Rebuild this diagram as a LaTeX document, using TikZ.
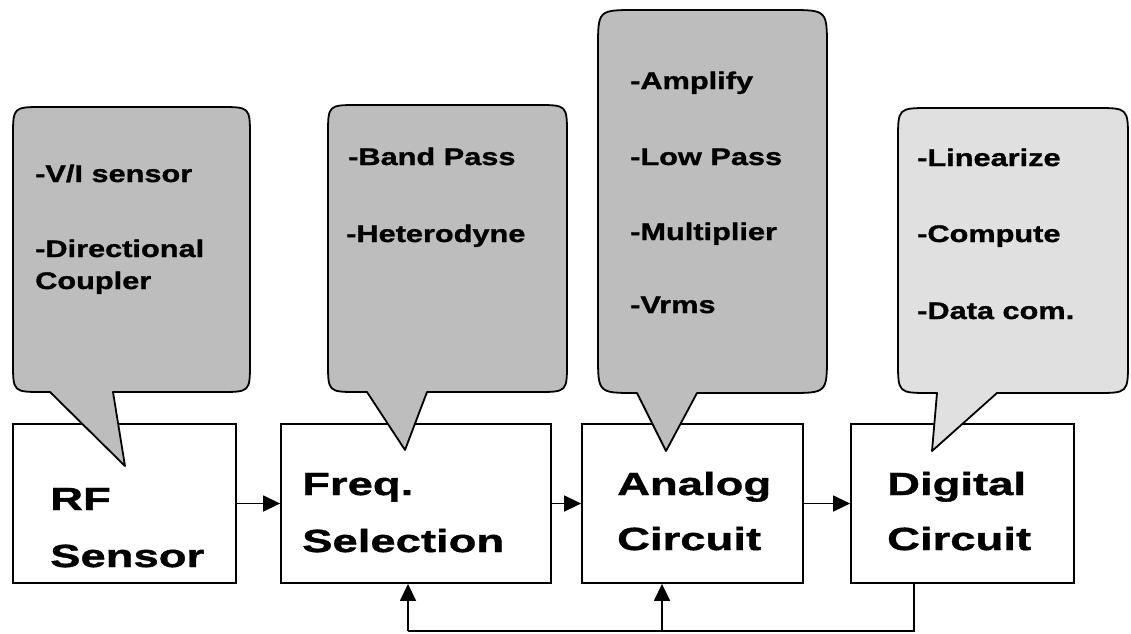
\documentclass[tikz,border=0pt]{standalone}
\usepackage{fontspec}
\newfontfamily\boxfont[FakeStretch=1.42,FakeBold=1.2]{Liberation Sans}
\newfontfamily\calfont[FakeStretch=1.28,FakeBold=1.2]{Liberation Sans}
\usetikzlibrary{arrows.meta}
\definecolor{calgray}{gray}{0.74}
\definecolor{callight}{gray}{0.88}
\begin{document}
\begin{tikzpicture}[x=1pt,y=-1pt,
  blk/.style={draw, line width=1.8pt, fill=white, minimum height=159pt, inner sep=0pt},
  conn/.style={line width=1.5pt, -{Triangle[length=17pt,width=16pt]}},
  feed/.style={line width=1.5pt},
  callout/.style={draw, line width=1.8pt, line join=round, fill=calgray},
  calloutlight/.style={callout, fill=callight},
  btext/.style={anchor=base west, inner sep=0pt, font=\boxfont\bfseries\fontsize{32}{38}\selectfont},
  ctext/.style={anchor=base west, inner sep=0pt, font=\calfont\bfseries\fontsize{24}{29}\selectfont}]
\useasboundingbox[fill=white] (0,0) rectangle (1131,633);

% blocks
\node[blk, minimum width=223pt] (rf) at (124.5,503.5) {};
\node[blk, minimum width=270pt] (fs) at (416,503.5) {};
\node[blk, minimum width=221pt] (ac) at (692.5,503.5) {};
\node[blk, minimum width=223pt] (dc) at (962.5,503.5) {};

% block texts
\node[btext] (rfa) at (50,510) {RF};
\node[btext] (rfb) at (50,567) {Sensor};
\node[btext] (fsa) at (302,495) {Freq.};
\node[btext] (fsb) at (302,552) {Selection};
\node[btext] (aca) at (617,495) {Analog};
\node[btext] (acb) at (617,550) {Circuit};
\node[btext] (dca) at (887,495) {Digital};
\node[btext] (dcb) at (887,550) {Circuit};

% forward connectors
\draw[conn] (rf.east) -- (fs.west);
\draw[conn] (fs.east) -- (ac.west);
\draw[conn] (ac.east) -- (dc.west);

% feedback
\coordinate (d1) at (914,631);
\coordinate (f1) at (408,631);
\coordinate (a1) at (662,631);
\draw[feed] (dc.south -| d1) -- (d1) -- (f1);
\draw[conn] (f1) -- (f1 |- fs.south);
\draw[conn] (a1) -- (a1 |- ac.south);

% callouts
\path[callout] (113,392) -- (220,392) .. controls (250,392) .. (250,362) -- (250,137)
  .. controls (250,107) .. (220,107) -- (43,107) .. controls (13,107) .. (13,137)
  -- (13,362) .. controls (13,392) .. (43,392) -- (50,392) -- (125,466) -- cycle;
\path[callout] (427,392) -- (537,392) .. controls (567,392) .. (567,362) -- (567,135)
  .. controls (567,105) .. (537,105) -- (358,105) .. controls (328,105) .. (328,135)
  -- (328,362) .. controls (328,392) .. (358,392) -- (367,392) -- (405,450) -- cycle;
\path[callout] (697,393) -- (789,393) .. controls (827,393) .. (827,355) -- (827,48)
  .. controls (827,10) .. (789,10) -- (636,10) .. controls (598,10) .. (598,48)
  -- (598,355) .. controls (598,393) .. (636,393) -- (637,393) -- (666,451) -- cycle;
\path[calloutlight] (997,393) -- (1096,393) .. controls (1128,393) .. (1128,361) -- (1128,140)
  .. controls (1128,108) .. (1096,108) -- (930,108) .. controls (898,108) .. (898,140)
  -- (898,361) .. controls (898,393) .. (930,393) -- (937,393) -- (932,451) -- cycle;

% callout texts
\node[ctext] (c1a) at (35,182) {-V/I sensor};
\node[ctext] (c1b) at (35,257) {-Directional};
\node[ctext] (c1c) at (35,289) {Coupler};
\node[ctext] (c2a) at (348,165) {-Band Pass};
\node[ctext] (c2b) at (346,242) {-Heterodyne};
\node[ctext] (c3a) at (630,89) {-Amplify};
\node[ctext] (c3b) at (630,165) {-Low Pass};
\node[ctext] (c3c) at (630,240) {-Multiplier};
\node[ctext] (c3d) at (630,313) {-Vrms};
\node[ctext] (c4a) at (917,166) {-Linearize};
\node[ctext] (c4b) at (917,242) {-Compute};
\node[ctext] (c4c) at (917,319) {-Data com.};
\end{tikzpicture}
\end{document}
